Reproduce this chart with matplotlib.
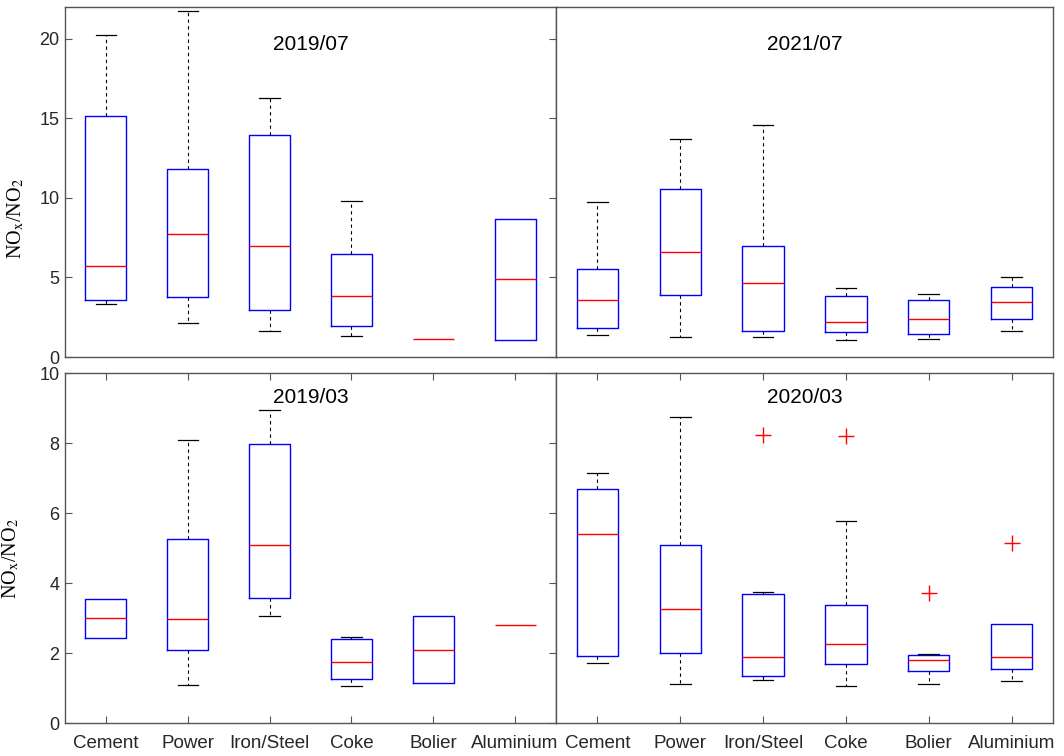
import numpy as np
import matplotlib
matplotlib.use('Agg')
import matplotlib.pyplot as plt

plt.rcParams['font.family'] = ['Liberation Sans', 'DejaVu Sans']
plt.rcParams['mathtext.fontset'] = 'stix'

sectors = ['Cement', 'Power', 'Iron/Steel', 'Coke', 'Bolier', 'Aluminium']

# 2019/07
jul19_lo = [3.33, 2.12, 1.65, 1.30, 1.13, 1.07]
jul19_q1 = [3.58, 3.77, 2.97, 1.93, 1.13, 1.07]
jul19_med = [5.72, 7.73, 6.97, 3.83, 1.13, 4.88]
jul19_q3 = [15.16, 11.83, 13.95, 6.49, 1.13, 8.69]
jul19_hi = [20.27, 21.76, 16.27, 9.78, 1.13, 8.69]
jul19_out = [[], [], [], [], [], []]

# 2021/07
jul21_lo = [1.38, 1.26, 1.28, 1.09, 1.11, 1.61]
jul21_q1 = [1.84, 3.92, 1.66, 1.57, 1.43, 2.39]
jul21_med = [3.61, 6.60, 4.68, 2.20, 2.39, 3.46]
jul21_q3 = [5.56, 10.57, 6.96, 3.86, 3.58, 4.38]
jul21_hi = [9.75, 13.73, 14.61, 4.36, 3.98, 5.01]
jul21_out = [[], [], [], [], [], []]

# 2019/03
mar19_lo = [2.44, 1.08, 3.06, 1.05, 1.15, 2.80]
mar19_q1 = [2.44, 2.09, 3.57, 1.26, 1.15, 2.80]
mar19_med = [2.99, 2.97, 5.10, 1.74, 2.10, 2.80]
mar19_q3 = [3.54, 5.27, 7.98, 2.40, 3.06, 2.80]
mar19_hi = [3.54, 8.10, 8.94, 2.45, 3.06, 2.80]
mar19_out = [[], [], [], [], [], []]

# 2020/03
mar20_lo = [1.72, 1.12, 1.22, 1.05, 1.11, 1.20]
mar20_q1 = [1.92, 2.01, 1.35, 1.68, 1.50, 1.54]
mar20_med = [5.40, 3.27, 1.90, 2.27, 1.81, 1.90]
mar20_q3 = [6.68, 5.08, 3.68, 3.38, 1.93, 2.83]
mar20_hi = [7.13, 8.73, 3.73, 5.76, 1.96, 2.83]
mar20_out = [[], [], [8.24], [8.20], [3.71], [5.13]]

W, H = 1064, 756
fig = plt.figure(figsize=(W / 100, H / 100), dpi=100)

def px_axes(x0, x1, ytop, ybot):
    return fig.add_axes([x0 / W, 1 - ybot / H, (x1 - x0) / W, (ybot - ytop) / H])

ax_tl = px_axes(65, 556, 7, 357)
ax_tr = px_axes(556, 1053, 7, 357)
ax_bl = px_axes(65, 556, 373, 723)
ax_br = px_axes(556, 1053, 373, 723)

spine_col = '#555555'

def draw(ax, lo, q1, med, q3, hi, out, title, ylim, yticks, title_y):
    stats = []
    for i in range(len(sectors)):
        stats.append(dict(whislo=lo[i], q1=q1[i], med=med[i], q3=q3[i],
                          whishi=hi[i], fliers=out[i], label=sectors[i]))
    parts = ax.bxp(stats, positions=np.arange(1, 7), widths=0.5, capwidths=0.25,
                   boxprops=dict(color='#0000ff', lw=1.0),
                   medianprops=dict(color='#ff0000', lw=1.0, zorder=3),
                   whiskerprops=dict(color='black', lw=0.8, linestyle=(0, (3, 3))),
                   capprops=dict(color='black', lw=0.9),
                   flierprops=dict(marker='+', markeredgecolor='#ff0000', markersize=11,
                                   markeredgewidth=1.0, linestyle='none'))
    # hide zero-length parts so they don't tint the box edges
    for i in range(len(sectors)):
        if q1[i] == q3[i]:
            parts['boxes'][i].set_visible(False)
        if lo[i] == q1[i]:
            parts['caps'][2 * i].set_visible(False)
            parts['whiskers'][2 * i].set_visible(False)
        if hi[i] == q3[i]:
            parts['caps'][2 * i + 1].set_visible(False)
            parts['whiskers'][2 * i + 1].set_visible(False)
    ax.set_xlim(0.5, 6.5)
    ax.set_ylim(*ylim)
    ax.set_yticks(yticks)
    for s in ax.spines.values():
        s.set_color(spine_col)
        s.set_linewidth(1.0)
    ax.tick_params(direction='in', length=5, color=spine_col, labelsize=13,
                   labelcolor='#262626', width=0.8)
    ax.text(0.5, title_y, title, transform=ax.transAxes, ha='center',
            va='center', fontsize=15, color='black')

draw(ax_tl, jul19_lo, jul19_q1, jul19_med, jul19_q3, jul19_hi, jul19_out,
     '2019/07', (0, 22), [0, 5, 10, 15, 20], 0.893)
draw(ax_tr, jul21_lo, jul21_q1, jul21_med, jul21_q3, jul21_hi, jul21_out,
     '2021/07', (0, 22), [0, 5, 10, 15, 20], 0.893)
draw(ax_bl, mar19_lo, mar19_q1, mar19_med, mar19_q3, mar19_hi, mar19_out,
     '2019/03', (0, 10), [0, 2, 4, 6, 8, 10], 0.93)
draw(ax_br, mar20_lo, mar20_q1, mar20_med, mar20_q3, mar20_hi, mar20_out,
     '2020/03', (0, 10), [0, 2, 4, 6, 8, 10], 0.93)

# top row: no x ticks
for ax in (ax_tl, ax_tr):
    ax.set_xticks([])
# bottom row: ticks top and bottom, labels at bottom
for ax in (ax_bl, ax_br):
    ax.set_xticks(np.arange(1, 7))
    ax.set_xticklabels(sectors, fontsize=13.5)
    ax.tick_params(axis='x', top=True, bottom=True, pad=9)
# left column: y ticks both sides
for ax in (ax_tl, ax_bl):
    ax.tick_params(axis='y', left=True, right=True, pad=4)
# right column: no y ticks
for ax in (ax_tr, ax_br):
    ax.set_yticks([])

ylab = r'NO$_{\mathrm{x}}$/NO$_2$'
for ax, yc, xc in ((ax_tl, 0.395, -0.078), (ax_bl, 0.47, -0.09)):
    ax.set_ylabel(ylab, family=['Liberation Serif', 'DejaVu Serif'], fontsize=14.5)
    ax.yaxis.set_label_coords(xc, yc)

fig.savefig('out.png', dpi=100)
